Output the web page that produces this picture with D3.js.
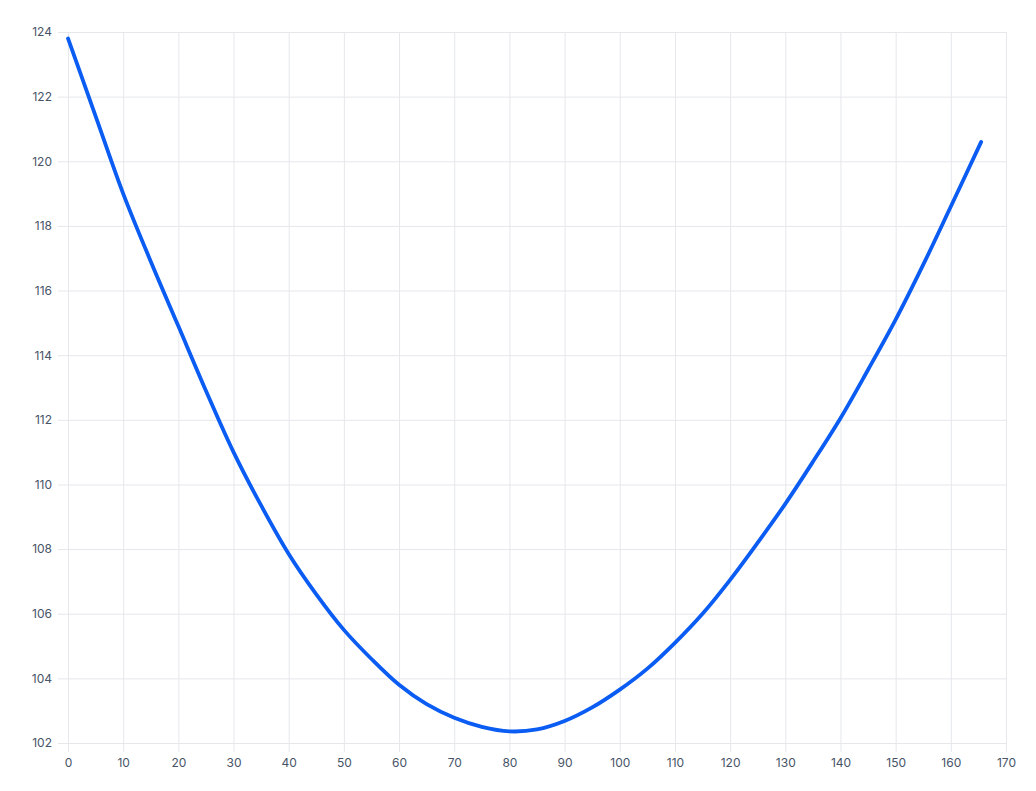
<!DOCTYPE html>
<html>
<head>
<meta charset="utf-8">
<script src="https://cdn.jsdelivr.net/npm/d3@7"></script>
<style>
  body { margin: 0; background: #fff; }
  #chart svg { display: block; }
  .tick text { font-family: Inter, "Noto Sans", sans-serif; font-size: 12px; fill: #475467; }
</style>
</head>
<body>
<div id="chart"></div>
<script>
const xValues = [0, 5, 10, 15, 20, 25, 30, 35, 40, 45, 50, 55, 60, 65, 70, 75, 80, 85,
  90, 95, 100, 105, 110, 115, 120, 125, 130, 135, 140, 145, 150, 155, 160, 165.5];
const yValues = [123.8, 121.4, 119.0, 116.9, 114.9, 112.9, 111.0, 109.35, 107.85, 106.6, 105.5, 104.6,
  103.8, 103.2, 102.78, 102.5, 102.36, 102.42, 102.68, 103.1, 103.65, 104.3, 105.1, 106.0,
  107.05, 108.2, 109.4, 110.7, 112.05, 113.55, 115.1, 116.8, 118.6, 120.6];
const xTicks = d3.range(0, 171, 10);
const yTicks = d3.range(102, 125, 2);

const W = 1036, H = 791;
const margin = { top: 32, right: 30, bottom: 48, left: 68 };
const width = 1006 - margin.left;
const height = 743 - margin.top;

const svg = d3.select('#chart').append('svg')
    .attr('width', W)
    .attr('height', H);

const g = svg.append('g')
    .attr('transform', `translate(${margin.left},${margin.top})`);

const xScale = d3.scaleLinear().domain([0, 170]).range([0, width]);
const yScale = d3.scaleLinear().domain([102, 124]).range([height, 0]);

// vertical grid + x ticks
const xAxis = d3.axisBottom(xScale)
    .tickValues(xTicks)
    .tickSize(height + 9)
    .tickPadding(6)
    .tickFormat(d3.format('d'));

g.append('g')
    .attr('class', 'axis x-axis')
    .call(xAxis)
    .call(s => s.select('.domain').remove())
    .call(s => s.selectAll('.tick line').attr('stroke', '#e5e7eb'));

// horizontal grid + y ticks
const yAxis = d3.axisLeft(yScale)
    .tickValues(yTicks)
    .tickSize(-(width + 10))
    .tickPadding(6)
    .tickFormat(d3.format('d'));

g.append('g')
    .attr('class', 'axis y-axis')
    .attr('transform', 'translate(-10,0)')
    .call(yAxis)
    .call(s => s.select('.domain').remove())
    .call(s => s.selectAll('.tick line').attr('stroke', '#e5e7eb'));

const data = xValues.map((x, i) => ({ x, y: yValues[i] }));

const line = d3.line()
    .x(d => xScale(d.x))
    .y(d => yScale(d.y))
    .curve(d3.curveCatmullRom);

g.append('path')
    .datum(data)
    .attr('fill', 'none')
    .attr('stroke', '#0a5cf2')
    .attr('stroke-width', 3.8)
    .attr('stroke-linecap', 'round')
    .attr('stroke-linejoin', 'round')
    .attr('d', line);
</script>
</body>
</html>
